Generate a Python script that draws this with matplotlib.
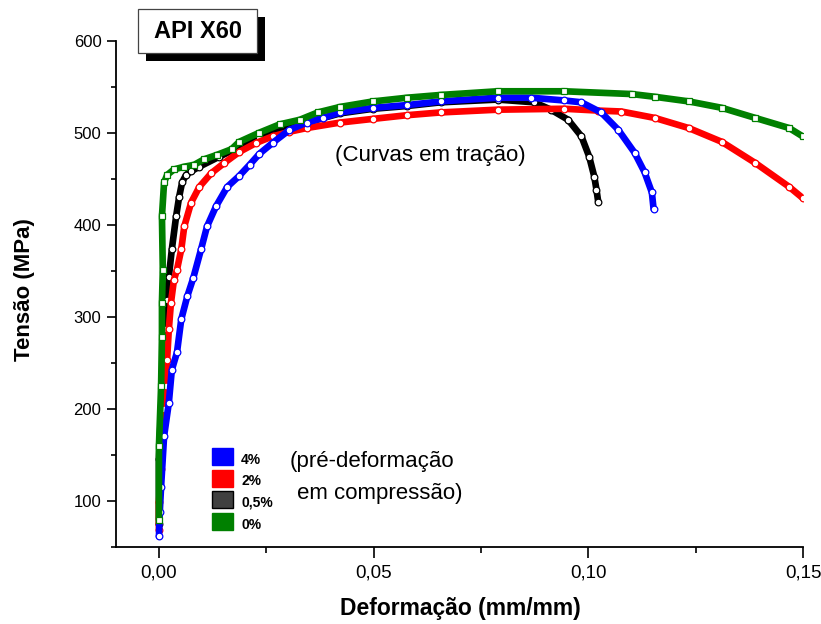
import matplotlib
matplotlib.use('Agg')
import matplotlib.pyplot as plt
from matplotlib.patches import Rectangle
from matplotlib.ticker import MultipleLocator, FuncFormatter

plt.rcParams['font.family'] = ['Liberation Sans', 'DejaVu Sans']

# ---- data ----
strain_4 = [0.0000, 0.0002, 0.0005, 0.0012, 0.0023, 0.0030, 0.0042, 0.0052, 0.0066, 0.0080,
            0.0098, 0.0112, 0.0133, 0.0159, 0.0187, 0.0211, 0.0234, 0.0265, 0.0304, 0.0344,
            0.0382, 0.0422, 0.0499, 0.0578, 0.0656, 0.0789, 0.0867, 0.0944, 0.0984, 0.1030,
            0.1070, 0.1108, 0.1131, 0.1148, 0.1152]
stress_4 = [61, 88, 115, 170, 206, 242, 261, 297, 322, 342,
            373, 398, 420, 441, 453, 465, 477, 489, 503, 511,
            516, 522, 527, 530, 534, 538, 538, 535, 533, 522,
            503, 478, 457, 435, 417]

strain_2 = [0.0000, 0.0000, 0.0005, 0.0007, 0.0012, 0.0016, 0.0019, 0.0023, 0.0028, 0.0035,
            0.0042, 0.0052, 0.0059, 0.0075, 0.0094, 0.0122, 0.0152, 0.0187, 0.0227, 0.0265,
            0.0304, 0.0344, 0.0422, 0.0499, 0.0578, 0.0656, 0.0789, 0.0944, 0.1023, 0.1077,
            0.1155, 0.1234, 0.1311, 0.1389, 0.1468, 0.1499]
stress_2 = [68, 98, 134, 170, 199, 224, 253, 286, 315, 340,
            351, 373, 398, 424, 441, 456, 467, 479, 489, 496,
            501, 505, 511, 515, 519, 522, 525, 526, 524, 523,
            516, 505, 490, 467, 441, 429]

strain_05 = [0.0000, 0.0000, 0.0007, 0.0014, 0.0019, 0.0023, 0.0030, 0.0040, 0.0047, 0.0054,
             0.0063, 0.0075, 0.0094, 0.0141, 0.0234, 0.0344, 0.0422, 0.0499, 0.0578, 0.0656,
             0.0789, 0.0874, 0.0913, 0.0953, 0.0984, 0.1002, 0.1014, 0.1019, 0.1023]
stress_05 = [74, 145, 221, 286, 318, 343, 373, 409, 430, 446,
             454, 458, 463, 474, 495, 511, 521, 526, 529, 533,
             536, 533, 525, 514, 496, 474, 452, 438, 425]

strain_0 = [0.0000, 0.0000, 0.0005, 0.0007, 0.0007, 0.0009, 0.0007, 0.0012, 0.0019, 0.0035,
            0.0059, 0.0082, 0.0105, 0.0136, 0.0169, 0.0187, 0.0234, 0.0281, 0.0328, 0.0370,
            0.0422, 0.0499, 0.0578, 0.0656, 0.0789, 0.0944, 0.1101, 0.1155, 0.1234, 0.1311,
            0.1389, 0.1468, 0.1499]
stress_0 = [79, 159, 224, 278, 315, 351, 409, 446, 454, 460,
            463, 465, 471, 476, 482, 490, 500, 509, 514, 522,
            528, 534, 538, 541, 545, 545, 542, 539, 534, 527,
            516, 505, 496]

labels = ['4%', '2%', '0,5%', '0%']
colors = ['#0000FF', '#FF0000', '#000000', '#008000']
legend_face = ['#0000FF', '#FF0000', '#404040', '#008000']

fig = plt.figure(figsize=(8.21, 6.24), dpi=100)
W, H = 821.0, 624.0
ax = fig.add_axes([116 / W, 1 - 546.5 / H, (803 - 116) / W, (546.5 - 40.7) / H])

series = [
    (strain_05, stress_05, colors[2], 'o', 2),
    (strain_2, stress_2, colors[1], 'o', 3),
    (strain_4, stress_4, colors[0], 'o', 4),
    (strain_0, stress_0, colors[3], 's', 5),
]
for xs, ys, c, m, z in series:
    ax.plot(xs, ys, color=c, lw=4.8, solid_capstyle='round', zorder=z)
    ax.plot(xs, ys, ls='none', marker=m, ms=4.8, mfc='white', mec=c, mew=0.9, zorder=z + 0.5)

ax.set_xlim(-0.01, 0.15)
ax.set_ylim(50, 600)

for s in ['top', 'right']:
    ax.spines[s].set_visible(False)
for s in ['left', 'bottom']:
    ax.spines[s].set_linewidth(1.3)

ax.xaxis.set_major_locator(MultipleLocator(0.05))
ax.xaxis.set_minor_locator(MultipleLocator(0.025))
ax.yaxis.set_major_locator(MultipleLocator(100))
ax.yaxis.set_minor_locator(MultipleLocator(50))
ax.xaxis.set_major_formatter(FuncFormatter(lambda v, p: f"{v:.2f}".replace('.', ',')))
ax.yaxis.set_major_formatter(FuncFormatter(lambda v, p: f"{int(round(v))}"))

ax.tick_params(axis='x', which='major', direction='out', length=8, width=1.2, labelsize=13.5, pad=5)
ax.tick_params(axis='x', which='minor', direction='out', length=4.3, width=1.2)
ax.tick_params(axis='y', which='major', direction='out', length=6.5, width=1.2, labelsize=12, pad=4)
ax.tick_params(axis='y', which='minor', direction='out', length=3.6, width=1.2)

ax.set_xlabel('Deformação (mm/mm)', fontsize=16.5, fontweight='bold')
ax.set_ylabel('Tensão (MPa)', fontsize=16, fontweight='bold')
ax.xaxis.set_label_coords(0.5016, -0.1216)
ax.xaxis.label.set_va('center')
ax.yaxis.set_label_coords(-0.1325, 0.507)
ax.yaxis.label.set_va('center')

# title box with shadow
fig.patches.append(Rectangle((146 / W, 1 - 61 / H), 119 / W, 44 / H, transform=fig.transFigure,
                             facecolor='black', edgecolor='none', zorder=5))
fig.patches.append(Rectangle((138 / W, 1 - 53 / H), 119 / W, 44 / H, transform=fig.transFigure,
                             facecolor='white', edgecolor='#444444', lw=0.9, zorder=6))
fig.text(197.5 / W, 1 - 31.5 / H, 'API X60', ha='center', va='center', fontsize=17,
         fontweight='bold', zorder=7)

# annotations
fig.text(430 / W, 1 - 155 / H, '(Curvas em tração)', ha='center', va='center', fontsize=16)
fig.text(290 / W, 1 - 462 / H, '(pré-deformação', ha='left', va='center', fontsize=16)
fig.text(297 / W, 1 - 493 / H, 'em compressão)', ha='left', va='center', fontsize=16)

# legend
for i, (lab, fc) in enumerate(zip(labels, legend_face)):
    top = 448 + i * 21.7
    ec = 'black' if lab == '0,5%' else fc
    fig.patches.append(Rectangle((212 / W, 1 - (top + 17) / H), 21 / W, 17 / H,
                                 transform=fig.transFigure, facecolor=fc, edgecolor=ec, lw=1.0))
    fig.text(241 / W, 1 - (top + 11.5) / H, lab, ha='left', va='center', fontsize=10,
             fontweight='bold')

fig.savefig('out.png', dpi=100)
